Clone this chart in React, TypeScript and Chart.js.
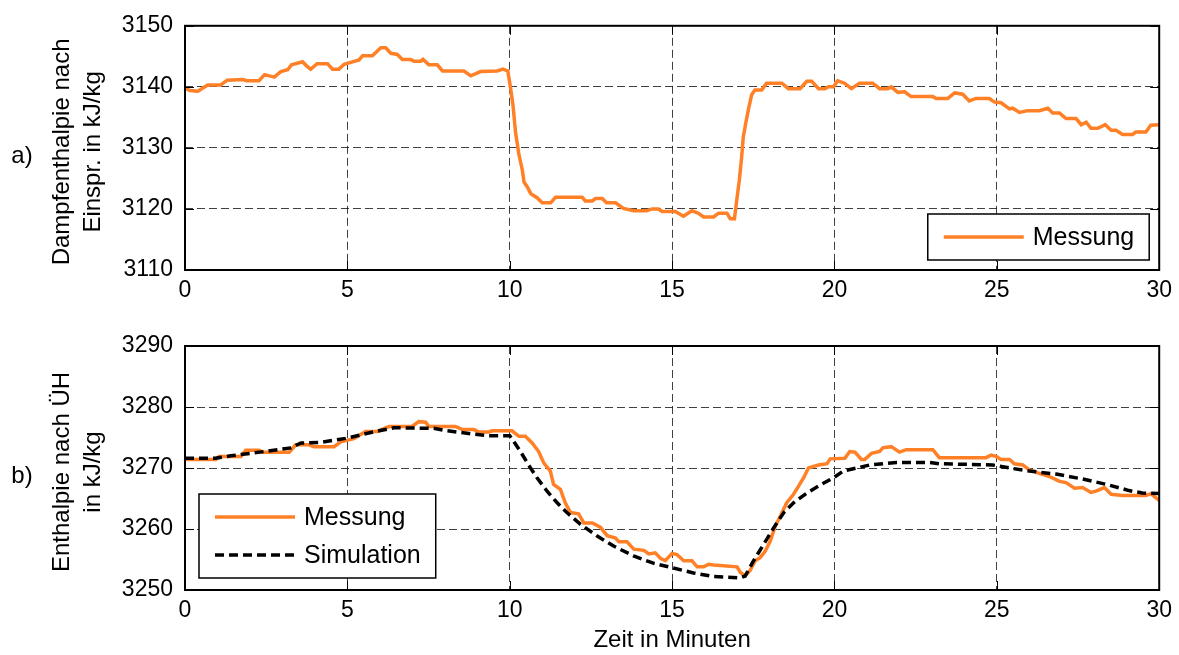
import React, { useEffect, useRef } from 'react';
import { Chart, registerables } from 'chart.js';

Chart.register(...registerables);

// ---------- data ----------
const xTickValues = [0, 5, 10, 15, 20, 25, 30];

const topTime = [
  0.0, 0.15, 0.4, 0.55, 0.7, 1.1, 1.3, 1.78, 1.9, 2.28, 2.45, 2.6, 2.75, 2.95, 3.16, 3.28, 3.62, 3.75, 3.87, 4.07,
  4.39, 4.54, 4.74, 4.9, 5.16, 5.36, 5.47, 5.77, 6.03, 6.18, 6.34, 6.54, 6.69, 6.95, 7.05, 7.26, 7.33, 7.51, 7.77, 7.93,
  8.59, 8.8, 9.1, 9.61, 9.79, 9.94, 10.02, 10.1, 10.18, 10.28, 10.39, 10.44, 10.54, 10.65, 10.85, 11.0, 11.26, 11.41, 12.23, 12.33,
  12.54, 12.64, 12.85, 12.98, 13.26, 13.5, 13.81, 14.22, 14.38, 14.58, 14.69, 15.1, 15.35, 15.61, 15.81, 15.97, 16.28, 16.43, 16.69, 16.79,
  16.92, 16.99, 17.07, 17.14, 17.19, 17.28, 17.35, 17.45, 17.55, 17.76, 17.91, 18.38, 18.58, 18.94, 19.15, 19.3, 19.51, 19.71, 19.81, 19.97,
  20.1, 20.31, 20.52, 20.77, 21.18, 21.39, 21.64, 21.75, 21.95, 22.16, 22.36, 23.03, 23.13, 23.49, 23.7, 23.95, 24.15, 24.36, 24.77, 24.93,
  25.13, 25.39, 25.49, 25.7, 25.95, 26.31, 26.57, 26.72, 26.93, 27.13, 27.44, 27.6, 27.75, 27.9, 28.11, 28.34, 28.52, 28.67, 28.87, 29.18,
  29.28, 29.59, 29.74, 30.0,
];
const topMessung = [
  3139.8, 3139.4, 3139.3, 3139.8, 3140.3, 3140.3, 3141.1, 3141.2, 3141.0, 3141.0, 3142.0, 3141.8, 3141.6, 3142.5, 3142.8, 3143.6, 3144.1, 3143.4, 3142.9, 3143.8,
  3143.8, 3142.9, 3142.9, 3143.7, 3144.1, 3144.4, 3145.1, 3145.1, 3146.4, 3146.4, 3145.5, 3145.3, 3144.5, 3144.5, 3144.2, 3144.2, 3144.5, 3143.6, 3143.6, 3142.6,
  3142.6, 3141.8, 3142.5, 3142.6, 3142.9, 3142.6, 3140.0, 3137.0, 3132.5, 3129.0, 3126.3, 3124.4, 3123.6, 3122.5, 3121.8, 3121.0, 3121.0, 3121.9, 3121.9, 3121.3,
  3121.3, 3121.7, 3121.7, 3121.0, 3121.0, 3120.1, 3119.7, 3119.7, 3120.0, 3120.0, 3119.6, 3119.6, 3118.8, 3119.7, 3119.3, 3118.7, 3118.7, 3119.3, 3119.3, 3118.4,
  3118.4, 3121.4, 3124.7, 3128.4, 3131.7, 3134.4, 3136.3, 3138.7, 3139.5, 3139.5, 3140.6, 3140.6, 3139.7, 3139.7, 3140.9, 3140.9, 3139.7, 3139.7, 3140.0, 3140.0,
  3141.0, 3140.6, 3139.7, 3140.6, 3140.6, 3139.7, 3139.7, 3140.0, 3139.1, 3139.2, 3138.4, 3138.4, 3138.1, 3138.1, 3139.0, 3138.8, 3137.7, 3138.1, 3138.1, 3137.5,
  3137.4, 3136.4, 3136.5, 3135.8, 3136.1, 3136.1, 3136.5, 3135.7, 3135.7, 3134.8, 3134.8, 3133.8, 3134.2, 3133.2, 3133.2, 3133.8, 3132.9, 3132.9, 3132.2, 3132.2,
  3132.6, 3132.6, 3133.7, 3133.8,
];

const botTime = [
  0.0, 0.95, 1.05, 1.72, 1.87, 2.28, 2.39, 3.21, 3.41, 3.82, 3.97, 4.59, 4.8, 5.2, 5.56, 5.92, 6.28, 6.99, 7.2, 7.41,
  7.51, 8.33, 8.54, 8.9, 9.05, 9.36, 9.46, 10.07, 10.28, 10.48, 10.69, 10.89, 11.05, 11.25, 11.35, 11.56, 11.71, 11.87, 12.12, 12.28,
  12.54, 12.79, 13.0, 13.26, 13.36, 13.61, 13.82, 14.13, 14.28, 14.48, 14.64, 14.79, 15.0, 15.15, 15.36, 15.61, 15.77, 15.97, 16.12, 16.28,
  17.0, 17.1, 17.25, 17.4, 17.56, 17.71, 17.87, 18.02, 18.18, 18.33, 18.53, 18.74, 18.89, 19.05, 19.2, 19.51, 19.77, 19.87, 20.32, 20.47,
  20.63, 20.83, 20.93, 21.14, 21.39, 21.49, 21.75, 22.0, 22.21, 23.03, 23.23, 24.67, 24.82, 24.98, 25.13, 25.39, 25.54, 25.8, 26.0, 26.26,
  26.62, 26.93, 27.13, 27.39, 27.64, 27.9, 28.05, 28.31, 28.52, 28.87, 29.59, 29.74, 30.0,
];
const botMessung = [
  3271.4, 3271.4, 3271.9, 3271.9, 3272.9, 3272.9, 3272.6, 3272.6, 3273.8, 3273.8, 3273.5, 3273.5, 3274.3, 3274.8, 3276.0, 3276.0, 3276.8, 3276.8, 3277.6, 3277.5,
  3276.8, 3276.8, 3276.3, 3276.3, 3275.9, 3275.9, 3276.1, 3276.1, 3275.2, 3275.2, 3274.1, 3272.7, 3270.8, 3269.5, 3267.3, 3266.5, 3264.3, 3262.7, 3262.5, 3261.0,
  3261.0, 3260.3, 3258.9, 3258.5, 3257.9, 3257.9, 3256.7, 3256.5, 3255.9, 3256.1, 3255.2, 3254.8, 3256.0, 3255.8, 3254.8, 3254.8, 3253.8, 3253.8, 3254.2, 3254.1,
  3253.8, 3252.9, 3252.3, 3253.2, 3254.8, 3255.3, 3256.4, 3258.0, 3260.5, 3262.1, 3264.3, 3265.7, 3267.0, 3268.4, 3270.0, 3270.5, 3270.7, 3271.5, 3271.6, 3272.7,
  3272.6, 3271.4, 3271.4, 3272.4, 3272.7, 3273.3, 3273.5, 3272.6, 3273.0, 3273.0, 3271.7, 3271.7, 3272.1, 3271.9, 3271.4, 3271.4, 3270.7, 3270.5, 3269.7, 3269.2,
  3268.6, 3267.8, 3267.6, 3266.7, 3266.8, 3266.0, 3266.2, 3266.8, 3265.7, 3265.5, 3265.5, 3265.8, 3264.7,
];

const simTime = [
  0.0, 0.92, 1.41, 2.44, 3.26, 3.57, 4.18, 5.0, 5.62, 6.43, 7.66, 8.07, 8.68, 9.3, 10.0, 10.13, 10.33, 10.58, 10.84, 11.15,
  11.46, 11.76, 12.17, 12.68, 13.2, 13.81, 14.42, 15.04, 15.66, 16.28, 17.1, 17.25, 17.51, 17.82, 18.13, 18.44, 18.74, 19.15, 19.56, 19.97,
  20.27, 20.68, 21.09, 21.91, 22.93, 23.23, 24.87, 25.39, 26.0, 26.83, 27.64, 28.46, 29.07, 29.48, 30.0,
];
const simValues = [
  3271.6, 3271.6, 3272.0, 3272.7, 3273.3, 3274.1, 3274.2, 3274.9, 3275.7, 3276.6, 3276.5, 3276.1, 3275.7, 3275.3, 3275.3, 3274.3, 3272.7, 3270.5, 3268.4, 3266.2,
  3264.3, 3262.7, 3260.8, 3258.9, 3257.2, 3255.6, 3254.4, 3253.6, 3252.8, 3252.2, 3252.0, 3252.3, 3254.8, 3257.5, 3260.2, 3262.7, 3264.3, 3265.9, 3267.2, 3268.4,
  3269.5, 3270.0, 3270.5, 3270.9, 3270.9, 3270.7, 3270.5, 3270.0, 3269.5, 3269.0, 3268.2, 3267.2, 3266.3, 3265.9, 3265.8,
];

// ---------- styling ----------
const ORANGE = 'rgb(255,128,38)';
const FONT = "'Liberation Sans', Arial, Helvetica, sans-serif";
const W = 1179;

const toPoints = (t: number[], v: number[]) => t.map((x, i) => ({ x, y: v[i] }));

const framePlugin = {
  id: 'frame',
  afterDraw(chart: any, _args: any, o: any) {
    const { ctx, chartArea: a, scales } = chart;
    const xs = scales.x;
    const ys = scales.y;
    ctx.save();
    // inward tick marks
    ctx.strokeStyle = '#000';
    ctx.lineWidth = 1;
    ctx.setLineDash([]);
    ctx.beginPath();
    xs.ticks.forEach((t: any) => {
      const px = Math.round(xs.getPixelForValue(t.value)) + 0.5;
      ctx.moveTo(px, a.bottom);
      ctx.lineTo(px, a.bottom - 9);
      ctx.moveTo(px, a.top);
      ctx.lineTo(px, a.top + 9);
    });
    ys.ticks.forEach((t: any) => {
      const py = Math.round(ys.getPixelForValue(t.value)) + 0.5;
      ctx.moveTo(a.left, py);
      ctx.lineTo(a.left + 9, py);
      ctx.moveTo(a.right, py);
      ctx.lineTo(a.right - 9, py);
    });
    ctx.stroke();
    // box
    ctx.lineWidth = 2;
    ctx.strokeRect(a.left, a.top, a.right - a.left, a.bottom - a.top);

    // legend
    const ds = chart.data.datasets;
    ctx.font = `25px ${FONT}`;
    let maxW = 0;
    ds.forEach((d: any) => { maxW = Math.max(maxW, ctx.measureText(d.label).width); });
    const bw = 105 + maxW + 15;
    const bh = 8 + 38 * ds.length;
    const bx = o.legendAlign === 'right' ? a.right - o.legendDx - bw : a.left + o.legendDx;
    const by = a.bottom - o.legendDy - bh;
    ctx.fillStyle = '#fff';
    ctx.fillRect(bx, by, bw, bh);
    ctx.lineWidth = 1.5;
    ctx.strokeStyle = '#000';
    ctx.strokeRect(bx, by, bw, bh);
    ds.forEach((d: any, i: number) => {
      const ry = by + 23 + i * 38;
      ctx.strokeStyle = d.borderColor;
      ctx.lineWidth = d.borderWidth;
      ctx.setLineDash(d.borderDash || []);
      ctx.beginPath();
      ctx.moveTo(bx + 16, ry);
      ctx.lineTo(bx + 96, ry);
      ctx.stroke();
      ctx.setLineDash([]);
      ctx.fillStyle = '#000';
      ctx.textAlign = 'left';
      ctx.textBaseline = 'middle';
      ctx.fillText(d.label, bx + 105, ry + 1);
    });

    // y titles and panel letter
    const cy = (a.top + a.bottom) / 2 + 4;
    ctx.fillStyle = '#000';
    ctx.font = `24px ${FONT}`;
    ctx.textAlign = 'center';
    ctx.textBaseline = 'middle';
    ctx.fillText(o.panel, 22, cy + 4);
    o.yTitle.forEach((line: string, i: number) => {
      ctx.save();
      ctx.translate(62 + i * 31, cy);
      ctx.rotate(-Math.PI / 2);
      ctx.fillText(line, 0, 0);
      ctx.restore();
    });
    if (o.xTitle) {
      ctx.fillText(o.xTitle, (a.left + a.right) / 2, o.xTitleY);
    }
    ctx.restore();
  },
};

function makeConfig(p: {
  datasets: any[];
  yMin: number;
  yMax: number;
  padTop: number;
  xAxisH: number;
  panel: string;
  yTitle: string[];
  xTitle?: string;
  xTitleY?: number;
  legendAlign: string;
  legendDx: number;
  legendDy: number;
}): any {
  const gridColor = (c: any) => {
    const n = c.scale.ticks.length;
    return c.index === 0 || c.index === n - 1 ? 'rgba(0,0,0,0)' : 'rgba(30,30,30,0.85)';
  };
  return {
    type: 'line',
    data: { datasets: p.datasets },
    plugins: [framePlugin],
    options: {
      animation: false,
      responsive: false,
      devicePixelRatio: 1,
      events: [],
      layout: { padding: { left: 0, right: 19, top: p.padTop, bottom: 0 } },
      plugins: {
        legend: { display: false },
        tooltip: { enabled: false },
        frame: {
          panel: p.panel,
          yTitle: p.yTitle,
          xTitle: p.xTitle,
          xTitleY: p.xTitleY,
          legendAlign: p.legendAlign,
          legendDx: p.legendDx,
          legendDy: p.legendDy,
        },
      },
      elements: { point: { radius: 0 }, line: { tension: 0 } },
      scales: {
        x: {
          type: 'linear',
          min: 0,
          max: 30,
          afterBuildTicks: (s: any) => { s.ticks = xTickValues.map((v) => ({ value: v })); },
          afterFit: (s: any) => { s.height = p.xAxisH; },
          grid: { color: gridColor, lineWidth: 1, drawTicks: false },
          border: { display: false, dash: [8, 4] },
          ticks: { color: '#000', font: { family: FONT, size: 23 }, padding: 7, maxRotation: 0, autoSkip: false, callback: (v: any) => String(v) },
        },
        y: {
          type: 'linear',
          min: p.yMin,
          max: p.yMax,
          afterFit: (s: any) => { s.width = 185; },
          grid: { color: gridColor, lineWidth: 1, drawTicks: false },
          border: { display: false, dash: [8, 4] },
          ticks: { color: '#000', font: { family: FONT, size: 23 }, padding: 12, stepSize: 10, callback: (v: any) => String(v) },
        },
      },
    },
  };
}

function Panel({ top, height, build }: { top: number; height: number; build: () => any }) {
  const ref = useRef<HTMLCanvasElement>(null);
  useEffect(() => {
    const chart = new Chart(ref.current as HTMLCanvasElement, build());
    return () => chart.destroy();
  }, []);
  return (
    <canvas
      ref={ref}
      width={W}
      height={height}
      style={{ position: 'absolute', left: 0, top, width: W, height, display: 'block' }}
    />
  );
}

export default function App() {
  const buildTop = () =>
    makeConfig({
      datasets: [
        {
          label: 'Messung',
          data: toPoints(topTime, topMessung),
          borderColor: ORANGE,
          borderWidth: 3.5,
          borderDash: [],
          fill: false,
        },
      ],
      yMin: 3110,
      yMax: 3150,
      padTop: 25,
      xAxisH: 50,
      panel: 'a)',
      yTitle: ['Dampfenthalpie nach', 'Einspr. in kJ/kg'],
      legendAlign: 'right',
      legendDx: 10,
      legendDy: 10,
    });
  const buildBottom = () =>
    makeConfig({
      datasets: [
        {
          label: 'Messung',
          data: toPoints(botTime, botMessung),
          borderColor: ORANGE,
          borderWidth: 3.5,
          borderDash: [],
          fill: false,
          order: 1,
        },
        {
          label: 'Simulation',
          data: toPoints(simTime, simValues),
          borderColor: '#000',
          borderWidth: 3.5,
          borderDash: [9, 5],
          fill: false,
          order: 0,
        },
      ],
      yMin: 3250,
      yMax: 3290,
      padTop: 26,
      xAxisH: 65,
      panel: 'b)',
      yTitle: ['Enthalpie nach ÜH', 'in kJ/kg'],
      xTitle: 'Zeit in Minuten',
      xTitleY: 320,
      legendAlign: 'left',
      legendDx: 14,
      legendDy: 12,
    });
  return (
    <div style={{ position: 'fixed', left: 0, top: 0, width: W, height: 655, background: '#fff' }}>
      <Panel top={0} height={320} build={buildTop} />
      <Panel top={320} height={335} build={buildBottom} />
    </div>
  );
}
